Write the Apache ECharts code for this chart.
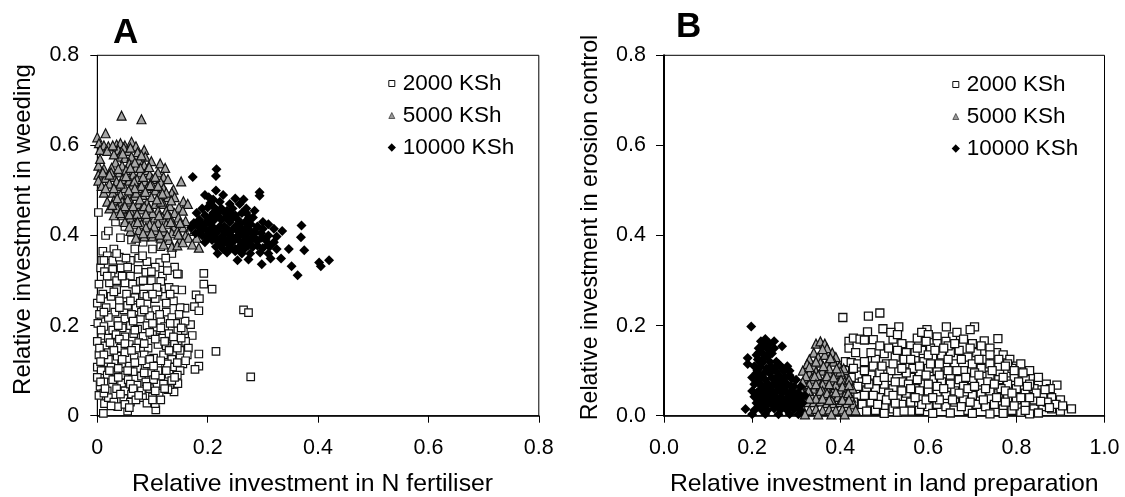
<!DOCTYPE html>
<html><head><meta charset="utf-8">
<style>html,body{margin:0;padding:0;background:#fff}#c{width:1125px;height:497px}</style>
<script src="https://cdn.jsdelivr.net/npm/echarts@6/dist/echarts.min.js"></script>
</head><body><div id="c"></div>
<script>
const seriesNames = ['2000 KSh','5000 KSh','10000 KSh'];
const a2000 = [[.193,.316],[.193,.292],[.208,.281],[.179,.268],[.185,.26],[.176,.242],[.184,.233],[.265,.235],[.274,.229],[.215,.143],[.278,.086],[.184,.137],[.184,.11],[.177,.103],[.172,.178],[.156,.189],[.169,.202],[.159,.21],[.159,.239],[.15,.24],[.153,.279],[.147,.314],[.139,.053],[.146,.071],[.131,.069],[.106,.013],[.105,.027],[.055,.01],[.011,.005],[.013,.027],
[.002,.451],[.015,.4],[.033,.43],[.042,.395],[.03,.37],[.05,.42],[.068,.37],[.083,.385],[.1,.37],[.115,.375],[.075,.35],[.06,.345],[.09,.342],[.113,.34],[.135,.36],[.14,.33],
[.01,.365],[.018,.355],[.028,.345],[.04,.352],[.052,.35],[.006,.328],[.013,.32],[.028,.325],[.043,.328],[.06,.31],[.074,.325],[.088,.318],[.105,.33],[.118,.31],[.127,.322],[.145,.315],[.003,.292],[.022,.295],[.035,.28],[.05,.295],[.064,.292],[.078,.298],[.098,.3],[.115,.298],[.13,.285],[.14,.28],
[.01,.27],[.025,.265],[.04,.255],[.053,.27],[.068,.262],[.084,.27],[.105,.26],[.122,.265],[.138,.255],[.0,.25],[.016,.24],[.032,.23],[.048,.235],[.07,.24],[.09,.248],[.106,.235],[.125,.23],[.148,.225],[.004,.225],[.02,.218],[.037,.21],[.05,.215],[.062,.225],[.078,.215],[.095,.222],[.115,.21],[.135,.218],[.142,.205],
[.001,.205],[.012,.198],[.028,.19],[.045,.195],[.06,.2],[.073,.192],[.09,.2],[.107,.19],[.122,.198],[.146,.188],[.008,.178],[.02,.172],[.034,.18],[.05,.175],[.066,.182],[.083,.176],[.1,.18],[.118,.172],[.13,.182],[.16,.165],[.0,.165],[.014,.155],[.03,.16],[.042,.15],[.058,.158],[.075,.162],[.092,.15],[.11,.158],[.125,.155],[.14,.16],[.165,.15],
[.003,.135],[.02,.14],[.036,.132],[.05,.14],[.067,.13],[.085,.135],[.102,.128],[.12,.135],[.135,.125],[.15,.132],[.163,.135],[.0,.108],[.012,.118],[.025,.108],[.044,.115],[.058,.11],[.073,.105],[.09,.115],[.11,.108],[.127,.115],[.14,.108],[.155,.115],[.15,.1],
[.007,.1],[.018,.09],[.033,.097],[.05,.09],[.065,.098],[.08,.088],[.098,.095],[.115,.088],[.13,.092],[.145,.09],[.0,.085],[.012,.075],[.028,.08],[.044,.072],[.056,.08],[.072,.068],[.088,.075],[.102,.08],[.12,.07],[.135,.078],
[.005,.065],[.018,.055],[.035,.06],[.05,.055],[.062,.048],[.08,.055],[.095,.06],[.112,.05],[.128,.058],[.003,.045],[.02,.04],[.03,.03],[.048,.038],[.06,.03],[.082,.04],[.1,.042],[.115,.035],[.037,.02],[.05,.025],[.07,.035],[.09,.028],
[.02,.41],[.008,.345],[.062,.39],[.09,.4],[.125,.39],[.025,.31],[.07,.28],[.09,.265],[.11,.275],[.125,.25],[.035,.3],[.055,.245],[.08,.23],[.1,.205],[.04,.17],[.07,.15],[.045,.125],[.095,.125],[.13,.145],[.02,.125],[.06,.07],[.11,.1],[.15,.145],
[.012,.345],[.035,.36],[.055,.33],[.082,.355],[.098,.32],[.124,.35],[.018,.31],[.045,.31],[.083,.3],[.108,.285],[.006,.26],[.03,.275],[.06,.255],[.078,.25],[.1,.27],[.132,.27],[.012,.23],[.04,.24],[.065,.21],[.085,.235],[.113,.225],[.132,.205],[.152,.195],[.007,.19],[.038,.2],[.068,.19],[.095,.185],[.115,.195],[.138,.175],[.152,.172],[.004,.15],[.023,.162],[.05,.16],[.085,.16],[.105,.17],[.122,.165],[.145,.15],[.012,.135],[.03,.145],[.062,.145],[.08,.122],[.115,.122],[.145,.118],[.16,.122],[.006,.12],[.038,.105],[.068,.118],[.102,.11],[.125,.1],[.022,.1],[.055,.1],[.085,.095],[.105,.09],[.14,.085],[.006,.075],[.038,.085],[.065,.06],[.09,.065],[.122,.06],[.012,.05],[.042,.048],[.075,.045],[.105,.055],[.025,.022],[.058,.018],[.1,.035],[.014,.06]];
const a5000 = [[.044,.666],[.08,.658],[.015,.627],[0,.618],[.152,.52],[.114,.56],[.123,.55],[.156,.476],[.164,.47],[.138,.502],[.184,.373],
[.003,.605],[.012,.6],[.02,.598],[.035,.602],[.042,.605],[.05,.6],[.062,.608],[.07,.598],[.085,.59],[.005,.59],[.018,.588],[.038,.59],[.055,.588],[.073,.585],[.087,.575],[.04,.575],[.05,.572],[.062,.575],[.075,.568],[.033,.562],[.045,.555],[.058,.56],[.07,.55],[.085,.556],[.098,.565],[.09,.545],
[.002,.555],[.012,.548],[.026,.55],[.04,.54],[.052,.545],[.065,.535],[.078,.54],[.095,.535],[.11,.54],[.12,.53],[.002,.535],[.015,.528],[.03,.53],[.045,.525],[.058,.522],[.072,.525],[.086,.52],[.1,.525],[.115,.518],[.128,.525],
[.002,.522],[.008,.51],[.022,.515],[.036,.51],[.05,.505],[.062,.51],[.075,.505],[.09,.505],[.105,.5],[.12,.505],[.135,.495],[.012,.495],[.028,.495],[.042,.49],[.056,.492],[.068,.488],[.082,.49],[.098,.485],[.112,.488],[.128,.485],[.14,.485],
[.018,.475],[.03,.478],[.045,.475],[.06,.475],[.075,.47],[.09,.472],[.105,.47],[.12,.47],[.132,.465],[.148,.462],[.022,.46],[.036,.46],[.052,.458],[.066,.455],[.08,.458],[.095,.455],[.11,.455],[.125,.455],[.14,.45],[.155,.455],
[.03,.445],[.045,.445],[.06,.44],[.075,.44],[.09,.44],[.104,.44],[.118,.44],[.132,.44],[.147,.44],[.16,.432],[.05,.43],[.066,.425],[.08,.425],[.095,.425],[.11,.428],[.125,.425],[.14,.42],[.155,.418],[.17,.42],
[.06,.41],[.075,.412],[.09,.41],[.105,.412],[.12,.41],[.135,.405],[.145,.41],[.16,.4],[.175,.41],[.07,.395],[.085,.398],[.1,.398],[.115,.395],[.13,.39],[.15,.39],[.165,.395],[.18,.395],[.135,.375],[.145,.378],[.155,.385],[.172,.38],[.12,.38],
[.005,.57],[.03,.58],[.048,.595],[.067,.52],[.025,.54],[.08,.51],[.055,.48],[.1,.51],[.035,.52],[.115,.475],[.085,.465],[.125,.495],[.045,.46],[.07,.495],[.06,.455],[.1,.45],[.01,.54],[.078,.55],
[.028,.6],[.06,.595],[.08,.578],[.046,.582],[.068,.562],[.094,.552],[.038,.548],[.06,.55],[.105,.53],[.022,.535],[.052,.532],[.083,.53],[.096,.512],[.042,.515],[.068,.505],[.11,.51],[.015,.505],[.03,.505],[.057,.5],[.087,.497],[.118,.493],[.036,.483],[.05,.465],[.065,.465],[.077,.48],[.093,.462],[.108,.48],[.134,.478],[.027,.468],[.042,.45],[.058,.447],[.072,.448],[.088,.448],[.112,.445],[.127,.447],[.15,.428],[.058,.42],[.073,.43],[.088,.418],[.103,.42],[.118,.418],[.133,.43],[.147,.402],[.083,.405],[.098,.405],[.113,.402],[.127,.4]];
const a10000 = [[.173,.53],[.216,.547],[.215,.532],[.294,.496],[.294,.488],[.37,.422],[.369,.396],[.375,.367],[.352,.332],[.363,.312],[.402,.34],[.405,.332],[.42,.345],[.347,.37],[.333,.349],[.314,.349],[.298,.336],[.274,.347],[.254,.345],
[.195,.49],[.202,.485],[.215,.5],[.228,.49],[.21,.48],[.222,.475],[.25,.482],[.265,.48],[.2,.462],[.19,.46],[.212,.462],[.225,.46],[.24,.47],[.258,.47],[.285,.455],[.18,.45],[.195,.445],[.21,.45],[.232,.45],[.25,.445],[.27,.45],[.282,.44],[.3,.43],
[.175,.428],[.185,.435],[.198,.43],[.212,.435],[.225,.435],[.24,.43],[.255,.435],[.268,.43],[.278,.425],[.31,.425],[.17,.418],[.183,.42],[.196,.415],[.21,.418],[.222,.42],[.235,.415],[.25,.42],[.262,.415],[.275,.412],[.29,.42],[.32,.415],[.335,.41],
[.178,.405],[.19,.4],[.202,.405],[.215,.405],[.228,.4],[.24,.402],[.255,.4],[.27,.398],[.283,.402],[.297,.405],[.31,.4],[.325,.398],[.195,.385],[.208,.39],[.22,.385],[.232,.388],[.245,.385],[.26,.385],[.275,.385],[.29,.388],[.305,.39],[.32,.385],[.215,.375],[.228,.37],[.24,.372],[.25,.37],[.268,.372],[.282,.375],[.3,.372],[.312,.375],
[.218,.36],[.235,.362],[.25,.365],[.262,.36],[.277,.36],[.295,.362],[.31,.36],[.325,.37],[.22,.452],[.238,.44],[.205,.425],[.23,.408],[.245,.392],[.265,.4],[.262,.45],[.188,.41],[.255,.37],[.275,.44],[.215,.395],[.255,.41],[.24,.45],[.3,.415],[.285,.41],
[.205,.472],[.218,.455],[.205,.44],[.218,.445],[.232,.44],[.245,.44],[.258,.425],[.272,.42],[.19,.425],[.203,.41],[.218,.412],[.23,.42],[.243,.41],[.258,.408],[.27,.408],[.285,.395],[.298,.395],[.21,.395],[.225,.395],[.238,.392],[.252,.395],[.268,.39],[.28,.392],[.225,.378],[.238,.38],[.26,.378],[.273,.378],[.29,.378],[.31,.38],[.2,.395],[.245,.46],[.235,.455],[.27,.46]];
const b2000 = [[.406,.218],[.464,.221],[.49,.228],[.462,.186],[.497,.193],[.475,.169],[.533,.197],[.597,.191],[.641,.197],[.705,.197],[.695,.191],[.727,.166],[.758,.171],[.925,.015],[.892,.068],[.868,.07],[.85,.075],[.877,.06],
[.42,.165],[.43,.172],[.445,.17],[.455,.168],[.42,.15],[.412,.12],[.435,.14],[.425,.118],[.44,.115],[.455,.12],[.48,.125],[.5,.138],[.52,.17],[.54,.16],[.56,.155],[.575,.172],[.515,.185],[.53,.18],[.585,.185],[.6,.18],[.62,.175],[.655,.175],[.665,.185],[.68,.17],[.64,.165],[.62,.16],[.605,.15],[.585,.145],[.55,.14],[.525,.13],[.505,.115],[.475,.11],
[.44,.09],[.425,.085],[.45,.075],[.47,.09],[.49,.095],[.51,.085],[.53,.1],[.55,.115],[.57,.125],[.59,.12],[.61,.13],[.63,.135],[.65,.14],[.67,.145],[.69,.13],[.71,.14],[.73,.125],[.755,.14],[.77,.135],[.785,.125],[.8,.11],[.81,.115],[.83,.1],[.85,.085],[.7,.115],[.72,.105],[.74,.115],[.76,.11],[.78,.095],[.795,.085],[.82,.08],[.84,.06],
[.44,.045],[.46,.055],[.48,.06],[.5,.07],[.52,.06],[.54,.075],[.56,.085],[.58,.095],[.6,.105],[.62,.1],[.64,.11],[.66,.115],[.68,.1],[.67,.08],[.65,.09],[.63,.075],[.61,.08],[.59,.07],[.57,.06],[.55,.05],[.53,.04],[.51,.05],[.49,.04],[.47,.03],[.45,.025],[.43,.03],
[.46,.01],[.48,.012],[.5,.02],[.52,.015],[.54,.025],[.56,.03],[.58,.04],[.6,.055],[.62,.05],[.64,.045],[.66,.055],[.68,.065],[.7,.08],[.72,.075],[.74,.09],[.76,.08],[.78,.07],[.8,.06],[.82,.05],[.84,.035],[.86,.045],[.88,.04],[.9,.035],
[.5,.005],[.53,.008],[.56,.01],[.58,.012],[.6,.02],[.62,.025],[.64,.02],[.66,.03],[.68,.035],[.7,.045],[.72,.05],[.74,.055],[.76,.05],[.78,.04],[.8,.035],[.82,.025],[.84,.015],[.86,.02],[.88,.015],[.9,.01],[.61,.005],[.65,.006],[.69,.012],[.73,.02],[.75,.025],[.77,.015],[.79,.012],[.81,.008],[.85,.006],[.7,.005],[.74,.004],[.77,.005],[.83,.004],
[.565,.105],[.595,.09],[.625,.115],[.645,.125],[.705,.095],[.735,.075],[.765,.06],[.79,.105],[.665,.1],[.555,.07],[.515,.1],[.485,.078],[.465,.07],[.6,.135],[.55,.095],[.575,.08],[.69,.06],[.71,.025],[.625,.035],[.585,.025],[.545,.01],[.525,.028],[.475,.045],[.435,.06],[.41,.1],[.72,.155],[.74,.15],[.78,.115],[.815,.095],[.645,.155],[.7,.16],[.57,.14],[.87,.03],[.89,.025],[.83,.07],
[.43,.105],[.455,.1],[.47,.14],[.49,.155],[.51,.15],[.53,.145],[.545,.125],[.575,.15],[.595,.165],[.615,.145],[.635,.15],[.66,.16],[.675,.125],[.695,.15],[.715,.125],[.74,.135],[.76,.125],[.775,.11],[.795,.1],[.495,.11],[.52,.115],[.54,.105],[.56,.125],[.58,.11],[.605,.115],[.625,.09],[.645,.1],[.685,.085],[.715,.09],[.745,.1],[.77,.085],[.805,.075],[.825,.065],[.845,.05],[.865,.058],[.46,.08],[.5,.085],[.525,.075],[.54,.055],[.56,.06],[.58,.055],[.6,.07],[.62,.065],[.65,.07],[.67,.05],[.705,.065],[.73,.06],[.75,.07],[.775,.055],[.79,.05],[.81,.04],[.83,.04],[.44,.065],[.455,.045],[.485,.025],[.505,.035],[.52,.045],[.57,.04],[.595,.035],[.61,.04],[.635,.06],[.655,.035],[.675,.02],[.695,.03],[.725,.035],[.755,.04],[.775,.03],[.795,.022],[.82,.012],[.855,.032],[.875,.018],[.905,.022]];
const b5000 = [[.345,.16],[.355,.165],[.365,.16],[.37,.15],[.34,.14],[.33,.125],[.35,.13],[.365,.135],[.382,.14],[.39,.13],[.325,.115],[.34,.11],[.355,.118],[.37,.115],[.385,.12],[.398,.11],[.408,.105],
[.315,.1],[.33,.095],[.345,.098],[.36,.1],[.375,.095],[.39,.092],[.405,.09],[.32,.08],[.335,.082],[.35,.078],[.365,.082],[.38,.078],[.395,.075],[.41,.075],[.42,.08],[.31,.065],[.325,.065],[.34,.06],[.355,.065],[.37,.06],[.385,.06],[.4,.058],[.415,.06],[.428,.06],
[.305,.05],[.32,.05],[.335,.045],[.35,.048],[.365,.045],[.38,.045],[.395,.042],[.41,.045],[.425,.04],[.31,.03],[.325,.03],[.34,.03],[.355,.032],[.37,.028],[.385,.028],[.4,.03],[.415,.028],[.43,.025],[.3,.012],[.315,.015],[.33,.012],[.345,.015],[.36,.012],[.375,.014],[.39,.012],[.405,.014],[.42,.012],[.435,.012],[.32,.003],[.35,.003],[.38,.003],[.41,.003],[.36,.07],[.345,.12],[.375,.105],[.35,.09],[.39,.068],[.4,.098],[.33,.07],[.36,.055],[.345,.038],[.38,.035],
[.36,.148],[.378,.128],[.33,.108],[.362,.11],[.392,.105],[.322,.088],[.342,.088],[.37,.088],[.385,.085],[.402,.08],[.315,.075],[.345,.07],[.375,.07],[.405,.065],[.42,.068],[.312,.055],[.328,.055],[.355,.055],[.37,.05],[.39,.052],[.418,.05],[.315,.04],[.33,.038],[.36,.038],[.375,.035],[.405,.035],[.42,.035]];
const b10000 = [[.198,.198],[.268,.154],[.19,.128],[.19,.115],[.185,.015],
[.22,.165],[.23,.17],[.24,.16],[.25,.165],[.215,.15],[.225,.155],[.235,.148],[.25,.15],[.21,.135],[.222,.14],[.235,.132],[.245,.138],[.213,.125],[.225,.12],[.24,.12],[.26,.115],[.205,.11],[.218,.108],[.232,.105],[.25,.105],[.265,.11],[.28,.11],[.21,.095],[.225,.092],[.24,.095],[.255,.098],[.272,.098],[.285,.1],
[.2,.085],[.215,.082],[.23,.08],[.245,.085],[.26,.085],[.275,.085],[.29,.082],[.3,.08],[.205,.07],[.22,.068],[.235,.072],[.25,.07],[.265,.072],[.28,.07],[.295,.065],[.31,.065],[.2,.055],[.215,.055],[.23,.058],[.245,.055],[.26,.058],[.275,.055],[.29,.055],[.305,.05],
[.205,.042],[.22,.04],[.235,.042],[.25,.045],[.265,.04],[.28,.04],[.295,.042],[.31,.04],[.32,.045],[.21,.028],[.225,.028],[.24,.03],[.255,.028],[.27,.03],[.285,.028],[.3,.03],[.315,.028],[.205,.012],[.22,.015],[.235,.012],[.25,.016],[.265,.014],[.28,.012],[.295,.015],[.31,.012],[.2,.003],[.23,.004],[.26,.003],[.285,.004],[.305,.003],
[.228,.16],[.215,.14],[.24,.14],[.228,.13],[.218,.118],[.242,.11],[.255,.12],[.27,.105],[.212,.1],[.235,.1],[.26,.09],[.222,.085],[.252,.078],[.27,.078],[.285,.09],[.212,.075],[.228,.062],[.242,.065],[.258,.065],[.272,.062],[.288,.065],[.21,.05],[.225,.05],[.238,.05],[.252,.05],[.268,.05],[.283,.048],[.298,.048],[.215,.035],[.23,.035],[.245,.035],[.26,.035],[.275,.035],[.29,.035],[.305,.038],[.215,.022],[.232,.022],[.248,.022],[.262,.022],[.278,.02],[.292,.022],[.308,.022]];

const FONT='"Liberation Sans",Arial,sans-serif';
function fmtZero(v){return v===0?'0':v.toFixed(1)}
function fmtFixed(v){return v.toFixed(1)}
function mk(grid,data,sizes,bw){
  return [
   {name:seriesNames[0],type:'scatter',xAxisIndex:grid,yAxisIndex:grid,clip:false,data:data[0],symbol:'rect',symbolSize:sizes[0],itemStyle:{color:'#fff',borderColor:'#111',borderWidth:bw,opacity:1},z:3,silent:true},
   {name:seriesNames[1],type:'scatter',xAxisIndex:grid,yAxisIndex:grid,clip:false,data:data[1],symbol:'triangle',symbolSize:sizes[1],itemStyle:{color:'#a6a6a6',borderColor:'#111',borderWidth:1.2,opacity:1},z:4,silent:true},
   {name:seriesNames[2],type:'scatter',xAxisIndex:grid,yAxisIndex:grid,clip:false,data:data[2],symbol:'diamond',symbolSize:sizes[2],itemStyle:{color:'#000',borderColor:'#000',borderWidth:0,opacity:1},z:5,silent:true}];
}
function xAxis(grid,max,fmt,name,pad){
  return {gridIndex:grid,type:'value',min:0,max:max,interval:0.2,name:name,nameLocation:'middle',nameGap:56,
    nameTextStyle:{fontFamily:FONT,fontSize:24.8,color:'#000',padding:pad},
    axisLine:{show:true,onZero:false,lineStyle:{color:'#000',width:1.5}},axisTick:{show:true,length:7,lineStyle:{color:'#000',width:1}},
    axisLabel:{margin:21,fontFamily:FONT,fontSize:21.5,color:'#000',formatter:fmt,showMinLabel:true,showMaxLabel:true},splitLine:{show:false}};
}
function yAxis(grid,fmt,name,gap,pad,fs,lw,tl){
  return {gridIndex:grid,type:'value',min:0,max:0.8,interval:0.2,name:name,nameLocation:'middle',nameGap:gap,
    nameTextStyle:{fontFamily:FONT,fontSize:fs,color:'#000',padding:pad},
    axisLine:{show:true,onZero:false,lineStyle:{color:'#000',width:lw}},axisTick:{show:true,length:tl,lineStyle:{color:'#000',width:1}},
    axisLabel:{margin:18,fontFamily:FONT,fontSize:21.5,color:'#000',formatter:fmt,showMinLabel:true,showMaxLabel:true},splitLine:{show:false}};
}
function legend(left,top){
  return {show:true,left:left,top:top,orient:'vertical',itemWidth:6,itemHeight:6,itemGap:9,selectedMode:false,
    textStyle:{fontFamily:FONT,fontSize:22.5,color:'#000',padding:[0,0,0,3]},padding:0,
    data:[{name:seriesNames[0],itemStyle:{borderWidth:1}},{name:seriesNames[1],itemStyle:{borderWidth:.6,color:'#999'}},{name:seriesNames[2],itemStyle:{borderWidth:1.6}}]};
}
const chart=echarts.init(document.getElementById('c'),null,{renderer:'canvas'});
chart.setOption({
  animation:false,backgroundColor:'#fff',
  title:[
   {text:'A',left:113,top:16,padding:0,textStyle:{fontFamily:FONT,fontSize:35,fontWeight:'bold',color:'#000'}},
   {text:'B',left:676,top:10,padding:0,textStyle:{fontFamily:FONT,fontSize:35,fontWeight:'bold',color:'#000'}}],
  legend:[legend(388,72),legend(952,73)],
  grid:[
   {left:97.3,top:55.3,width:441.5,height:360.4,show:true,outerBoundsMode:'none',borderColor:'#000',borderWidth:1,backgroundColor:'transparent'},
   {left:664,top:55.3,width:440.5,height:360.4,show:true,outerBoundsMode:'none',borderColor:'#000',borderWidth:1,backgroundColor:'transparent'}],
  xAxis:[xAxis(0,0.8,fmtZero,'Relative investment in N fertiliser',[0,11,0,0]),xAxis(1,1.0,fmtFixed,'Relative investment in land preparation',0)],
  yAxis:[yAxis(0,fmtZero,'Relative investment in weeding',62,[0,0,0,12],24,1,7),yAxis(1,fmtFixed,'Relative investment in erosion control',62,[0,0,0,16],23.2,2,8)],
  series:[...mk(0,[a2000,a5000,a10000],[7.5,9,10],1.2),...mk(1,[b2000,b5000,b10000],[8,9,10],1.3)]
});
</script></body></html>
